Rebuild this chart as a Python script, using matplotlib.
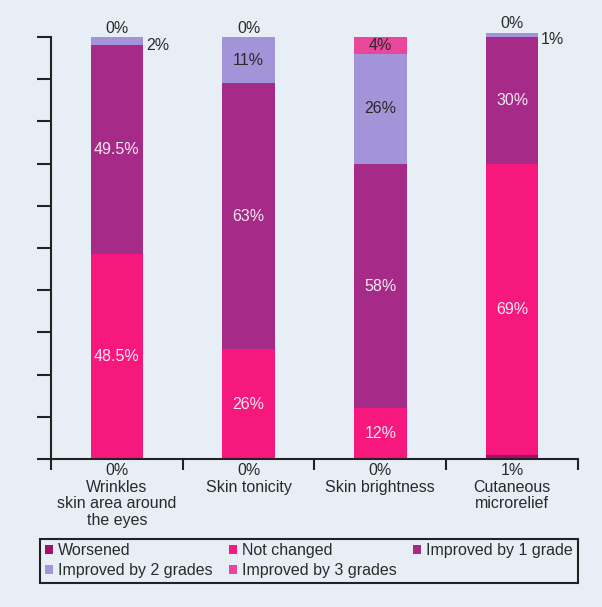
import matplotlib
matplotlib.use("Agg")
import matplotlib.pyplot as plt
import numpy as np
from matplotlib.patches import Patch

categories = ["Wrinkles\nskin area around\nthe eyes", "Skin tonicity", "Skin brightness", "Cutaneous\nmicrorelief"]
series_names = ["Worsened", "Not changed", "Improved by 1 grade", "Improved by 2 grades", "Improved by 3 grades"]
worsened = [0, 0, 0, 1]
not_changed = [48.5, 26, 12, 69]
improved1 = [49.5, 63, 58, 30]
improved2 = [2, 11, 26, 1]
improved3 = [0, 0, 4, 0]

colors = ["#a0106e", "#f7187e", "#a62a88", "#a393d8", "#e8479c"]
bg = "#e8eef5"

plt.rcParams['font.family'] = ['Liberation Sans', 'DejaVu Sans']
fs = 11.5

fig = plt.figure(figsize=(6.02, 6.07), dpi=100, facecolor=bg)
ax = fig.add_axes([0.0847, 0.2438, 0.960 - 0.0847, 0.9494 - 0.2438])
ax.set_facecolor(bg)

x = np.arange(len(categories))
series = [worsened, not_changed, improved1, improved2, improved3]
bw = 0.4
bottom = np.zeros(len(categories))
bars = []
for vals, c in zip(series, colors):
    ax.bar(x, vals, bw, bottom=bottom, color=c, edgecolor='none', zorder=2)
    bars.append((np.array(vals, float), bottom.copy()))
    bottom = bottom + np.array(vals, float)

ax.set_xlim(-0.5, len(categories) - 0.5)
ax.set_ylim(0, 101.5)

light = "#f6e8f2"
dark = "#2a2a2a"
for i in range(len(categories)):
    v, b0 = bars[1][0][i], bars[1][1][i]
    ax.text(x[i], b0 + v / 2, f"{v:g}%", ha='center', va='center', color=light, fontsize=fs, zorder=3)
    v, b0 = bars[2][0][i], bars[2][1][i]
    ax.text(x[i], b0 + v / 2, f"{v:g}%", ha='center', va='center', color=light, fontsize=fs, zorder=3)
    v, b0 = bars[3][0][i], bars[3][1][i]
    if v >= 5:
        ax.text(x[i], b0 + v / 2, f"{v:g}%", ha='center', va='center', color=dark, fontsize=fs, zorder=3)
    else:
        ax.annotate(f"{v:g}%", (x[i] + bw / 2, b0 + v / 2), xytext=(2, -3), textcoords='offset points',
                    ha='left', va='center', color=dark, fontsize=fs)
    v, b0 = bars[4][0][i], bars[4][1][i]
    if v >= 3:
        ax.text(x[i], b0 + v / 2, f"{v:g}%", ha='center', va='center', color=dark, fontsize=fs, zorder=3)
    else:
        ax.annotate(f"{v:g}%", (x[i], b0 + v), xytext=(0, 1), textcoords='offset points',
                    ha='center', va='bottom', color=dark, fontsize=fs, annotation_clip=False)

for s in ['top', 'right']:
    ax.spines[s].set_visible(False)
ax.spines['left'].set_bounds(0, 100)
for s in ['left', 'bottom']:
    ax.spines[s].set_linewidth(1.5)
    ax.spines[s].set_color('#222222')
ax.set_yticks(np.arange(0, 101, 10))
ax.tick_params(axis='y', length=10, width=1.5, color='#222222', labelleft=False, direction='out')
ax.set_xticks(np.arange(-0.5, len(categories), 1.0))
ax.tick_params(axis='x', which='major', length=8, width=1.5, color='#222222', labelbottom=False, direction='out')
ax.set_xticks(x, minor=True)
ax.set_xticklabels([f"{w:g}%\n{c}" for w, c in zip(worsened, categories)], minor=True,
                   fontsize=fs, color=dark, va='top', linespacing=1.13)
ax.tick_params(axis='x', which='minor', length=0, pad=3)

handles = [Patch(facecolor=c, edgecolor='none') for c in colors]
order = [0, 3, 1, 4, 2]
leg = fig.legend([handles[i] for i in order], [series_names[i] for i in order], ncol=3,
                 loc='lower left', bbox_to_anchor=(40 / 602, 1 - 583 / 607, 538 / 602, 46 / 607),
                 mode='expand', fontsize=fs, frameon=True, fancybox=False, edgecolor='#222222',
                 facecolor=bg, framealpha=1, handlelength=0.5, handleheight=0.5, handletextpad=0.35,
                 borderaxespad=0, borderpad=0.3, labelspacing=0.3, columnspacing=0.8)
leg.get_frame().set_linewidth(1.5)
for t in leg.get_texts():
    t.set_color(dark)

fig.savefig("out.png", dpi=100, facecolor=bg)
